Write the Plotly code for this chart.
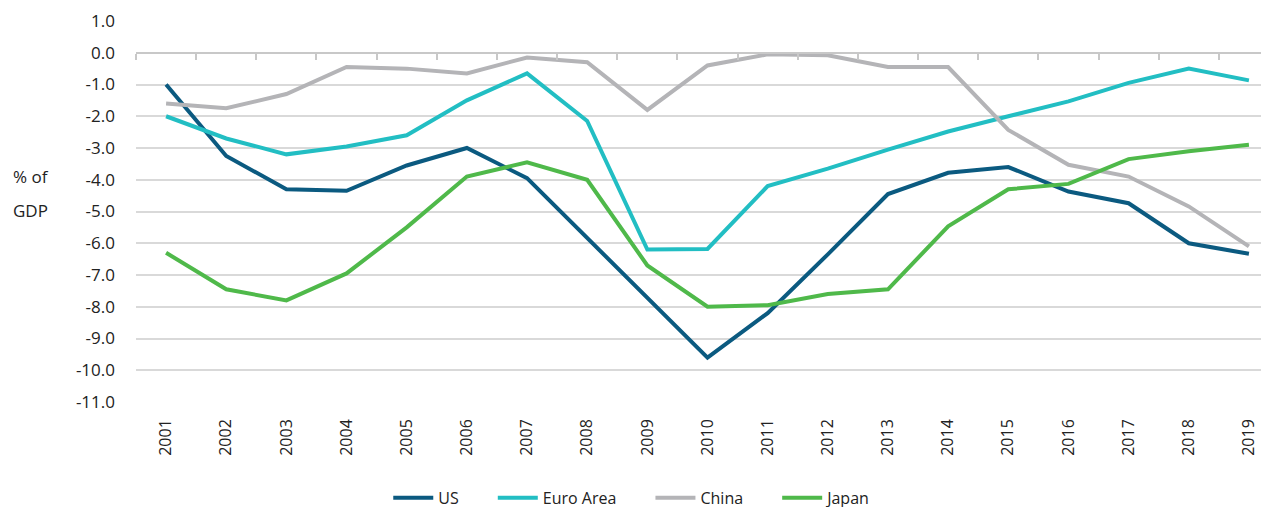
import plotly.graph_objects as go

years = [str(y) for y in range(2001, 2020)]
us = [-1.0, -3.25, -4.3, -4.35, -3.55, -3.0, -3.95, -5.83, -7.7, -9.6, -8.2, -6.35, -4.45, -3.78, -3.6, -4.37, -4.74, -6.0, -6.33]
euro = [-2.0, -2.7, -3.2, -2.95, -2.6, -1.5, -0.65, -2.15, -6.2, -6.18, -4.2, -3.65, -3.05, -2.48, -2.0, -1.53, -0.95, -0.5, -0.87]
china = [-1.6, -1.75, -1.3, -0.45, -0.5, -0.65, -0.15, -0.3, -1.8, -0.4, -0.05, -0.08, -0.45, -0.45, -2.43, -3.53, -3.9, -4.84, -6.1]
japan = [-6.3, -7.45, -7.8, -6.95, -5.5, -3.9, -3.45, -4.0, -6.7, -8.0, -7.95, -7.6, -7.45, -5.47, -4.3, -4.13, -3.35, -3.1, -2.9]

series = [("US", us, "#0b5a80"), ("Euro Area", euro, "#22bec3"),
          ("China", china, "#b4b4b7"), ("Japan", japan, "#4fb94a")]

ytick_vals = [1.0, 0.0, -1.0, -2.0, -3.0, -4.0, -5.0, -6.0, -7.0, -8.0, -9.0, -10.0, -11.0]
ytick_text = [f"{v:.1f}" for v in ytick_vals]

FONT = "Open Sans"
PAD = "\u00a0" * 7
PLOT_W = 1143
fig = go.Figure()
for name, vals, col in series:
    fig.add_trace(go.Scatter(x=years, y=vals, name=name + PAD, mode="lines",
                             line=dict(color=col, width=4)))
# invisible trace carrying the zero-line category-boundary ticks axis
fig.add_trace(go.Scatter(x=years, y=[None] * len(years), xaxis="x2", showlegend=False,
                         hoverinfo="skip", mode="lines"))

# page body has an 8px default margin, so margins are offset to compensate;
# the plot area runs slightly past the right edge of the window, as in the reference
fig.update_layout(
    width=1280, height=507,
    margin=dict(l=128, r=9, t=13, b=113, autoexpand=False),
    plot_bgcolor="white", paper_bgcolor="white",
    font=dict(family=FONT, size=16, color="#222222"),
    xaxis=dict(type="category", showgrid=False, showline=False, ticks="",
               tickangle=-90, tickfont=dict(size=16, color="#222222"),
               ticklabelstandoff=13, range=[-0.5, len(years) - 0.5]),
    xaxis2=dict(type="category", overlaying="x", anchor="free", position=11 / 12,
                side="bottom", showline=True, linecolor="#c8c8c8", linewidth=2,
                ticks="outside", tickson="boundaries", ticklen=6, tickcolor="#c8c8c8",
                tickwidth=2, showticklabels=False, showgrid=False,
                range=[-0.5, len(years) - 0.5]),
    yaxis=dict(range=[-11, 1], tickvals=ytick_vals, ticktext=ytick_text,
               showgrid=True, gridcolor="#d9d9d9", gridwidth=1.5, zeroline=False,
               tickfont=dict(size=17, color="#222222"), ticks="", ticklabelstandoff=20),
    legend=dict(orientation="h", x=0.2207, xanchor="left", y=-0.207, yanchor="top",
                font=dict(size=16, color="#222222"), itemwidth=40, traceorder="normal"),
    annotations=[
        dict(text="% of", xref="paper", yref="paper", x=(11 - 136) / PLOT_W, y=(402 - 176) / 381,
             xanchor="left", yanchor="middle", showarrow=False, font=dict(size=17)),
        dict(text="GDP", xref="paper", yref="paper", x=(11 - 136) / PLOT_W, y=(402 - 210) / 381,
             xanchor="left", yanchor="middle", showarrow=False, font=dict(size=17)),
    ],
)

fig.write_html("out.html")
